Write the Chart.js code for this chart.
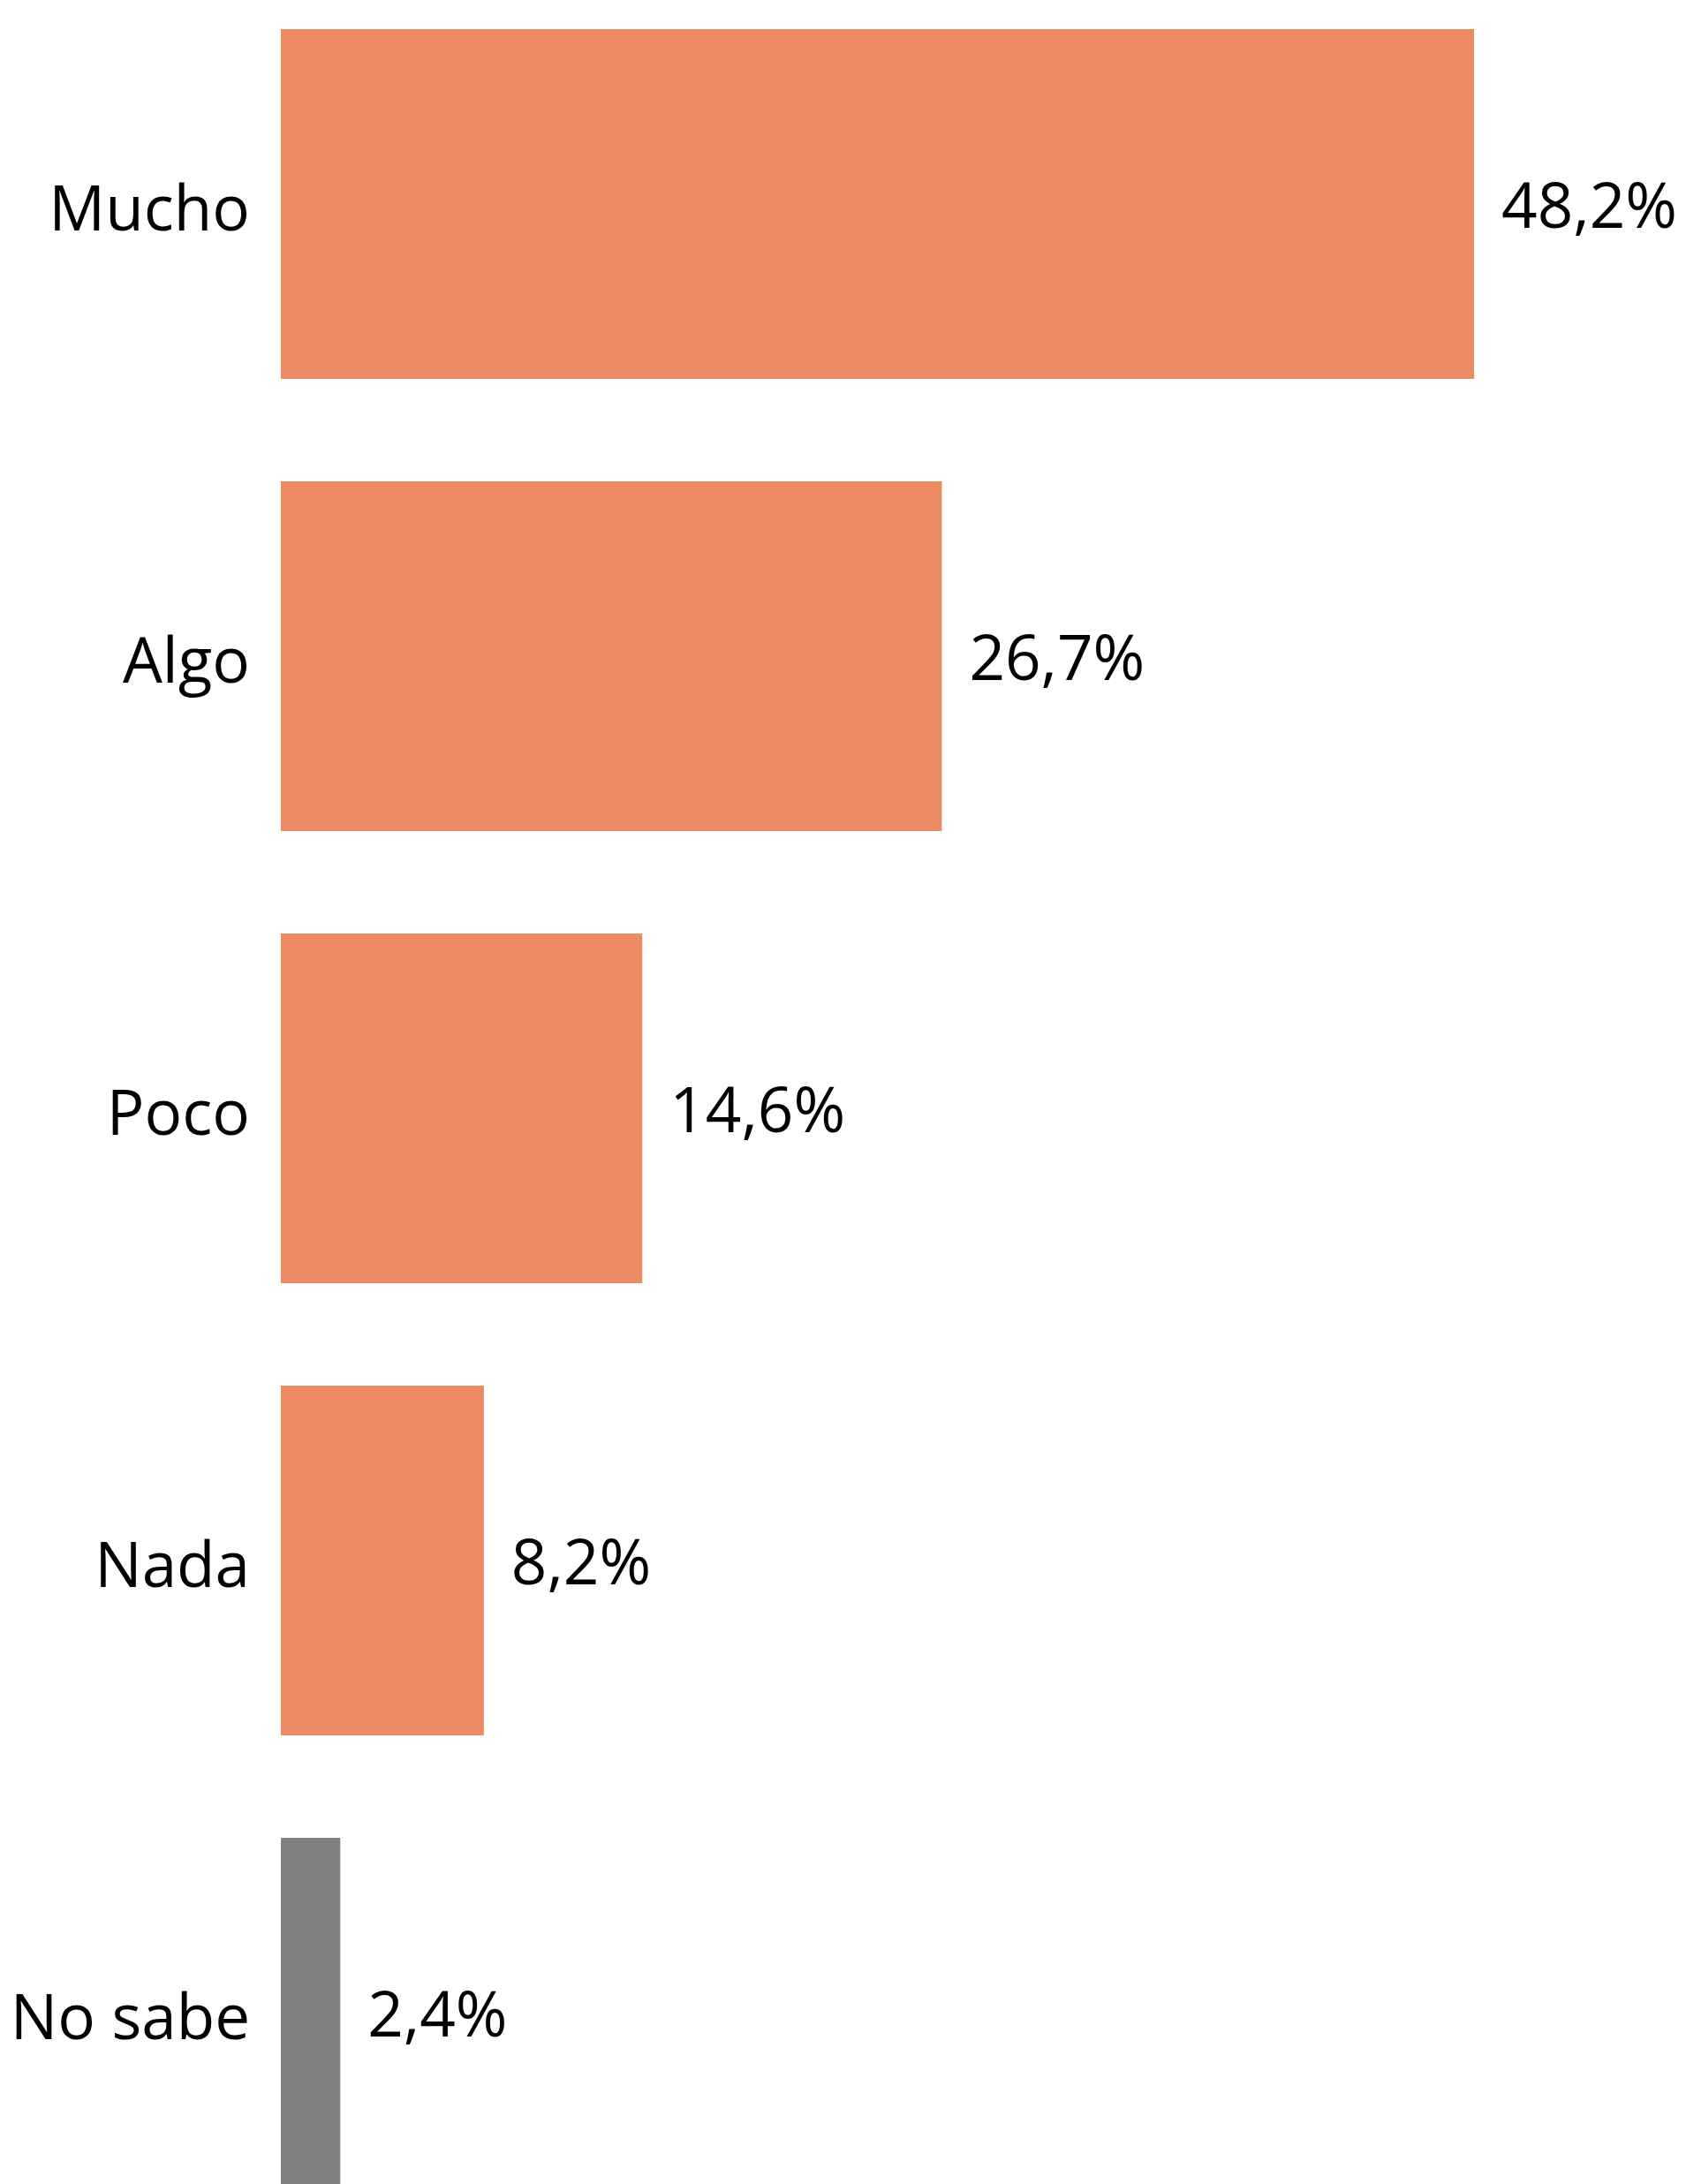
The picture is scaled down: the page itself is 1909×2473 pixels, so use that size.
<!DOCTYPE html>
<html>
<head>
<meta charset="utf-8">
<script src="https://cdn.jsdelivr.net/npm/chart.js@4/dist/chart.umd.min.js"></script>
<style>
  html, body { margin: 0; padding: 0; background: #ffffff; overflow: hidden; }
  #wrap { position: relative; width: 1909px; height: 2473px; overflow: hidden; }
  #c { position: absolute; left: 0; top: -25px; }
</style>
</head>
<body>
<div id="wrap"><canvas id="c" width="1909" height="2560"></canvas></div>
<script>
const categories = ["Mucho", "Algo", "Poco", "Nada", "No sabe"];
const values = [48.2, 26.7, 14.6, 8.2, 2.4];
const barColors = ["#EC8B61", "#EC8B61", "#EC8B61", "#EC8B61", "#808080"];

const FONT = "'Open Sans', 'Noto Sans', sans-serif";
const FONT_SIZE = 71;

const valueLabels = {
  id: 'valueLabels',
  afterDatasetsDraw(chart) {
    const ctx = chart.ctx;
    const meta = chart.getDatasetMeta(0);
    ctx.save();
    ctx.font = FONT_SIZE + "px " + FONT;
    ctx.fillStyle = "#000000";
    ctx.textAlign = "left";
    ctx.textBaseline = "middle";
    meta.data.forEach((bar, i) => {
      const txt = values[i].toFixed(1).replace('.', ',') + '%';
      ctx.fillText(txt, bar.x + 31, bar.y + 7);
    });
    ctx.restore();
  }
};

new Chart(document.getElementById('c'), {
  type: 'bar',
  data: {
    labels: categories,
    datasets: [{
      data: values,
      backgroundColor: barColors,
      borderWidth: 0,
      categoryPercentage: 1.0,
      barPercentage: 0.7734
    }]
  },
  options: {
    indexAxis: 'y',
    responsive: false,
    animation: false,
    devicePixelRatio: 1,
    layout: { padding: 0 },
    plugins: { legend: { display: false }, tooltip: { enabled: false } },
    scales: {
      x: {
        min: 0,
        max: 56.76,
        display: false,
        grid: { display: false }
      },
      y: {
        grid: { display: false, drawTicks: false },
        border: { display: false },
        ticks: {
          color: "#000000",
          padding: 35,
          labelOffset: 10,
          font: { family: FONT, size: FONT_SIZE }
        },
        afterFit(scale) {
          scale.width = 318;
          scale.paddingTop = 0;
          scale.paddingBottom = 0;
        }
      }
    }
  },
  plugins: [valueLabels]
});
</script>
</body>
</html>
